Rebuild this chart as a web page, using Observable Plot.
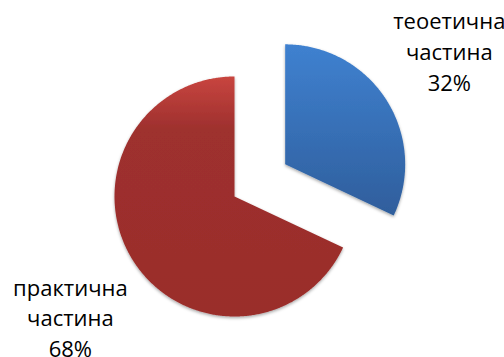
<!DOCTYPE html>
<html><head><meta charset="utf-8">
<script src="https://cdn.jsdelivr.net/npm/d3@7"></script>
<script src="https://cdn.jsdelivr.net/npm/@observablehq/plot@0.6"></script>
<style>html,body{margin:0;padding:0;background:#fff}</style>
</head><body><div id="chart"></div>
<script>
const categories = ["теоетична частина", "практична частина"];
const values = [32, 68];
const explodeFactor = [0.5, 0];
const gradientStops = [
  [["0%", "#3f81d0"], ["100%", "#2f5e9c"]],
  [["0%", "#c8453f"], ["22%", "#9e302e"], ["100%", "#9a2d2b"]]
];

const W = 504, H = 357, R = 120, CX = 234, CY = 196;
const labelRx = 1.62, labelRy = 1.82;

const arcs = d3.pie().sort(null).value(d => d)(values);
const slices = arcs.map((a, i) => {
  const mid = (a.startAngle + a.endAngle) / 2;
  const ox = explodeFactor[i] * Math.sin(mid), oy = -explodeFactor[i] * Math.cos(mid);
  const pts = [{x: ox, y: oy}];
  const n = Math.ceil((a.endAngle - a.startAngle) / (Math.PI / 360));
  for (let k = 0; k <= n; k++) {
    const t = a.startAngle + (a.endAngle - a.startAngle) * k / n;
    pts.push({x: ox + Math.sin(t), y: oy - Math.cos(t)});
  }
  pts.push({x: ox, y: oy});
  return {pts, fill: `url(#grad${i})`, label: {
    x: ox + labelRx * Math.sin(mid),
    y: oy - labelRy * Math.cos(mid),
    text: categories[i].replace(" ", "\n") + "\n" + values[i] + "%"
  }};
});

const chart = Plot.plot({
  width: W, height: H,
  margin: 0,
  x: {domain: [-CX / R, (W - CX) / R], range: [0, W], axis: null},
  y: {domain: [-CY / R, (H - CY) / R], range: [0, H], axis: null},
  style: {fontFamily: "Open Sans, sans-serif", background: "#fff"},
  marks: [
    ...slices.map(s => Plot.line(s.pts, {x: "x", y: "y", fill: s.fill, stroke: "none", curve: "linear"})),
    Plot.text(slices.map(s => s.label), {x: "x", y: "y", text: "text", fontSize: 22, lineHeight: 1.4, dy: 3, textAnchor: "middle", fill: "#000"})
  ]
});

const svg = d3.select(chart);
const defs = svg.insert("defs", ":first-child");
gradientStops.forEach((stops, i) => {
  const g = defs.append("linearGradient").attr("id", `grad${i}`).attr("x1", 0).attr("y1", 0).attr("x2", 0).attr("y2", 1);
  stops.forEach(([o, c]) => g.append("stop").attr("offset", o).attr("stop-color", c));
});
const f = defs.append("filter").attr("id", "sh").attr("x", "-10%").attr("y", "-10%").attr("width", "120%").attr("height", "120%");
f.append("feDropShadow").attr("dx", 0).attr("dy", 1.5).attr("stdDeviation", 1.5).attr("flood-color", "#000").attr("flood-opacity", 0.35);
svg.selectAll("g[aria-label='line']").attr("filter", "url(#sh)");
document.getElementById("chart").appendChild(chart);
</script>
</body></html>
